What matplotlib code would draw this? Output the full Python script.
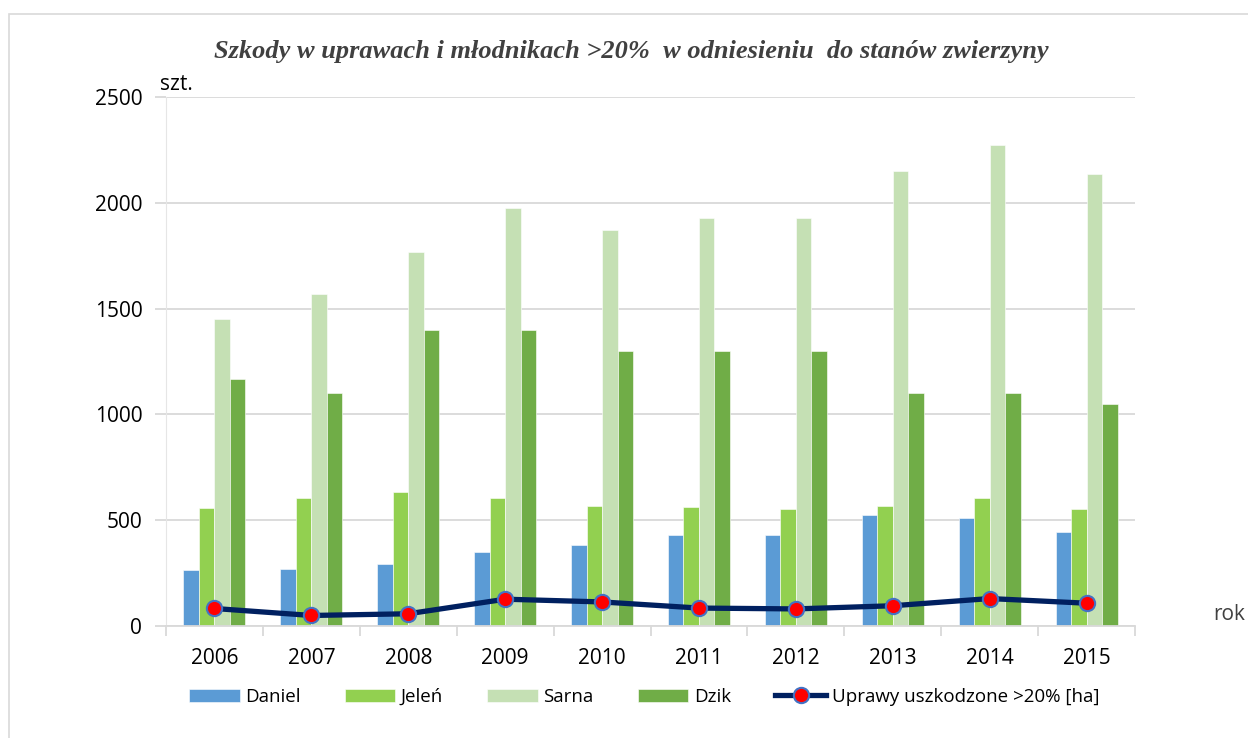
import numpy as np
import matplotlib.pyplot as plt
from matplotlib.patches import Rectangle

# Dane
lata = ["2006", "2007", "2008", "2009", "2010", "2011", "2012", "2013", "2014", "2015"]
daniel = [265, 270, 294, 348, 383, 429, 430, 523, 509, 446]
jelen = [557, 604, 631, 604, 567, 562, 551, 567, 604, 552]
sarna = [1450, 1570, 1770, 1977, 1874, 1931, 1931, 2152, 2275, 2136]
dzik = [1169, 1100, 1400, 1400, 1300, 1300, 1300, 1100, 1100, 1049]
uprawy = [82, 49, 57, 126, 113, 84, 80, 95, 129, 107]

nazwy = ["Daniel", "Jeleń", "Sarna", "Dzik"]
kolory = ["#5B9BD5", "#92D050", "#C5E0B4", "#70AD47"]

plt.rcParams['font.family'] = ['Open Sans', 'DejaVu Sans']

fig = plt.figure(figsize=(12.48, 7.38), dpi=100)
ax = fig.add_axes([0.133, 0.152, 0.7765, 0.716])

# ramka wykresu (lewa i gorna krawedz widoczna)
fig.patches.append(Rectangle((9 / 1248, -0.1), 1.2, 1 - 14 / 738 + 0.1,
                             transform=fig.transFigure, fill=False,
                             edgecolor="#D9D9D9", linewidth=1.2))

x = np.arange(len(lata))
szer = 0.16
serie = [daniel, jelen, sarna, dzik]
for i, (dane, nazwa, kol) in enumerate(zip(serie, nazwy, kolory)):
    ax.bar(x + (i - 1.5) * szer, dane, szer, color=kol, label=nazwa,
           edgecolor="white", linewidth=0.4, zorder=2)

ax.plot(x, uprawy, color="#002060", linewidth=3.8, marker="o",
        markersize=11, markerfacecolor="#FF0000", markeredgecolor="#4472C4",
        markeredgewidth=1.5, label="Uprawy uszkodzone >20% [ha]", zorder=3)

ax.set_xlim(-0.5, len(lata) - 0.5)
ax.set_ylim(0, 2500)
ax.set_yticks(np.arange(0, 2501, 500))
ax.yaxis.grid(True, color="#D9D9D9", linewidth=1.3, zorder=0)
ax.set_axisbelow(True)

ax.set_xticks(x)
ax.set_xticklabels(lata)
ax.set_xticks(np.arange(-0.5, len(lata)), minor=True)
ax.tick_params(axis="x", which="major", length=0, labelsize=15, pad=16)
ax.tick_params(axis="x", which="minor", length=7, color="#D9D9D9", width=1.3)
ax.tick_params(axis="y", length=8, color="#D9D9D9", width=1.3, labelsize=15, pad=9)

for s in ["top", "right"]:
    ax.spines[s].set_visible(False)
ax.spines["left"].set_color("#E6E6E6")
ax.spines["bottom"].set_color("#D9D9D9")
ax.spines["bottom"].set_linewidth(1.3)

fig.text(0.506, 0.93, "Szkody w uprawach i młodnikach >20%  w odniesieniu  do stanów zwierzyny",
         ha="center", va="center", fontsize=19, fontstyle="italic", fontweight="bold",
         family="Liberation Serif", color="#404040")
fig.text(0.128, 0.885, "szt.", fontsize=15, ha="left", va="center")
fig.text(0.972, 0.167, "rok", fontsize=15, ha="left", va="center", color="#404040")

uchwyty, etykiety = ax.get_legend_handles_labels()
uchwyty = uchwyty[1:] + uchwyty[:1]
etykiety = etykiety[1:] + etykiety[:1]
fig.legend(uchwyty, etykiety, loc="center", bbox_to_anchor=(0.516, 0.0556), ncol=5,
           frameon=False, fontsize=13.5, handlelength=2.7, handleheight=0.7,
           columnspacing=2.35, handletextpad=0.3)

fig.savefig("out.png", dpi=100)
